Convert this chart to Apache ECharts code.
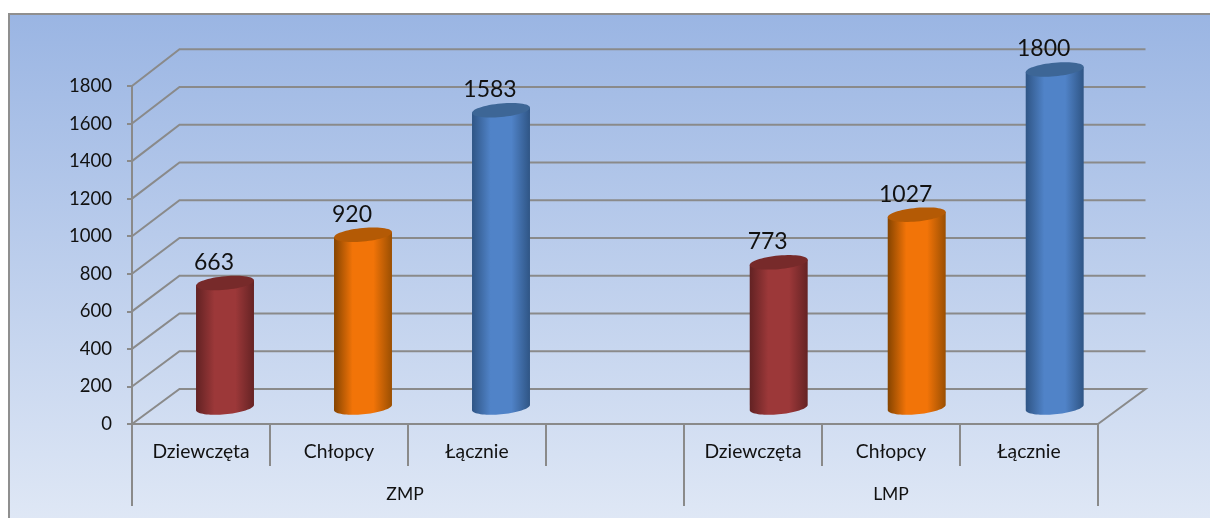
<!DOCTYPE html>
<html>
<head>
<meta charset="utf-8">
<style>html,body{margin:0;padding:0;background:#fff}#c{width:1210px;height:518px}</style>
<script src="https://cdn.jsdelivr.net/npm/echarts@6/dist/echarts.min.js"></script>
</head>
<body>
<div id="c"></div>
<script>
const categories = ['Dziewczęta', 'Chłopcy', 'Łącznie', '', 'Dziewczęta', 'Chłopcy', 'Łącznie'];
const values = [663, 920, 1583, null, 773, 1027, 1800];
const groupNames = ['ZMP', 'LMP'];
const groupStarts = [0, 4];
const groupEnds = [4, 7];
const yTicks = [0, 200, 400, 600, 800, 1000, 1200, 1400, 1600, 1800];

const palettes = {
  'Dziewczęta': { edgeL: '#622223', mid: '#9c3839', edgeR: '#652324', top: '#772a2a' },
  'Chłopcy': { edgeL: '#854400', mid: '#f27408', edgeR: '#9a4f02', top: '#b45a05' },
  'Łącznie': { edgeL: '#2f5585', mid: '#5083c8', edgeR: '#2f5585', top: '#3d6696' }
};
const GRID_COLOR = '#8a8a8a';
const DEPTH_X = 47.5;
const TEXT = '#111111';
const FONT = 'Lato, "Open Sans", sans-serif';

function wallLine(params, api) {
  const v = api.value(1);
  const cs = params.coordSys;
  const y = api.coord([0, v])[1];
  const by = y - 35 - 1.7 * v / 1800;
  const x0 = cs.x, x1 = cs.x + DEPTH_X, x2 = cs.x + cs.width + DEPTH_X;
  const pts = [[x0, y], [x1, by], [x2, by]];
  if (v === 0) pts.push([cs.x + cs.width, y]);
  return { type: 'polyline', shape: { points: pts }, style: { fill: null, stroke: GRID_COLOR, lineWidth: 2 }, silent: true };
}

function ellipsePts(cx, cy, rx, ry, k, from, to, n) {
  const out = [];
  for (let i = 0; i <= n; i++) {
    const t = from + (to - from) * i / n;
    const ex = rx * Math.cos(t);
    out.push([cx + ex, cy + ry * Math.sin(t) - k * ex]);
  }
  return out;
}

function cylinder(params, api) {
  const idx = api.value(0);
  const val = api.value(1);
  if (val == null || isNaN(val)) return null;
  const pal = palettes[categories[idx]];
  const front = api.coord([idx, val]);
  const base = api.coord([idx, 0]);
  const band = api.size([1, 0])[0];
  const rx = band * 0.21;
  const ry = 6.8;
  const k = 0.09;
  const cx = front[0] + (idx >= groupStarts[1] ? 25.7 : 24);
  const topY = front[1] - 16.5;
  const baseY = base[1] - 16.5;
  const right = ellipsePts(cx, topY, rx, ry, k, Math.PI, 2 * Math.PI, 1);
  const lower = ellipsePts(cx, baseY, rx, ry, k, 0, Math.PI, 36);
  const body = [right[0], right[1]].concat(lower);
  const grad = {
    type: 'linear', x: 0, y: 0, x2: 1, y2: 0,
    colorStops: [
      { offset: 0, color: pal.edgeL },
      { offset: 0.32, color: pal.mid },
      { offset: 0.68, color: pal.mid },
      { offset: 1, color: pal.edgeR }
    ]
  };
  return {
    type: 'group',
    children: [
      { type: 'polygon', shape: { points: body }, style: { fill: grad }, z2: 1 },
      { type: 'polygon', shape: { points: ellipsePts(cx, topY, rx, ry, k, 0, 2 * Math.PI, 60) }, style: { fill: pal.top }, z2: 2 },
      { type: 'text', x: cx - 11, y: topY - 20.5, style: { text: String(val), fill: TEXT, font: '23px ' + FONT, align: 'center', verticalAlign: 'middle' }, z2: 5 }
    ]
  };
}

function groupLevel(params, api) {
  const start = api.value(0), end = api.value(1), i = params.dataIndex;
  const cs = params.coordSys;
  const band = cs.width / categories.length;
  const bottom = cs.y + cs.height;
  const xs = cs.x + start * band, xe = cs.x + end * band;
  const line = x => ({ type: 'line', shape: { x1: x, y1: bottom, x2: x, y2: bottom + 82 }, style: { stroke: GRID_COLOR, lineWidth: 2 } });
  const kids = [line(xs),
    { type: 'text', x: (xs + xe) / 2 - (i === 0 ? 3 : 0), y: bottom + 70, style: { text: groupNames[i], fill: TEXT, font: '17.5px ' + FONT, align: 'center', verticalAlign: 'middle' } }];
  if (i === groupNames.length - 1) kids.push(line(xe));
  return { type: 'group', children: kids };
}

const chart = echarts.init(document.getElementById('c'), null, { renderer: 'canvas' });
chart.setOption({
  animation: false,
  backgroundColor: '#ffffff',
  graphic: [{
    type: 'rect', z: -10, silent: true,
    shape: { x: 9, y: 14, width: 1220, height: 520 },
    style: {
      stroke: '#8f8f8f', lineWidth: 2,
      fill: { type: 'linear', x: 0, y: 0, x2: 0, y2: 1, colorStops: [{ offset: 0, color: '#9ab5e3' }, { offset: 1, color: '#e1e9f6' }] }
    }
  }],
  grid: { left: 132, right: 112, top: 86, bottom: 94, containLabel: false },
  xAxis: {
    type: 'category', data: categories,
    axisLine: { lineStyle: { color: GRID_COLOR, width: 2 } },
    axisTick: { show: true, length: 42, lineStyle: { color: GRID_COLOR, width: 2 } },
    axisLabel: { interval: 0, margin: 18, fontSize: 19.3, color: TEXT, fontFamily: FONT }
  },
  yAxis: {
    type: 'value', min: 0, max: 1800, interval: 200,
    axisLine: { show: true, lineStyle: { color: GRID_COLOR, width: 2 } },
    axisTick: { show: true, length: 5, lineStyle: { color: GRID_COLOR, width: 2 } },
    splitLine: { show: false },
    axisLabel: { margin: 20, fontSize: 18.5, color: TEXT, fontFamily: FONT, padding: [6, 0, 0, 0], formatter: v => String(v) }
  },
  series: [
    { type: 'custom', name: 'walls', clip: false, z: 1, renderItem: wallLine, data: yTicks.map(t => [0, t]), encode: { x: 0, y: 1 }, silent: true },
    { type: 'custom', name: 'levels', clip: false, z: 1, renderItem: groupLevel, data: groupStarts.map((s, i) => [s, groupEnds[i]]), encode: { x: [], y: [] }, silent: true },
    { type: 'custom', name: 'values', clip: false, z: 3, renderItem: cylinder, data: values.map((v, i) => [i, v]), encode: { x: 0, y: 1 } }
  ]
});
</script>
</body>
</html>
